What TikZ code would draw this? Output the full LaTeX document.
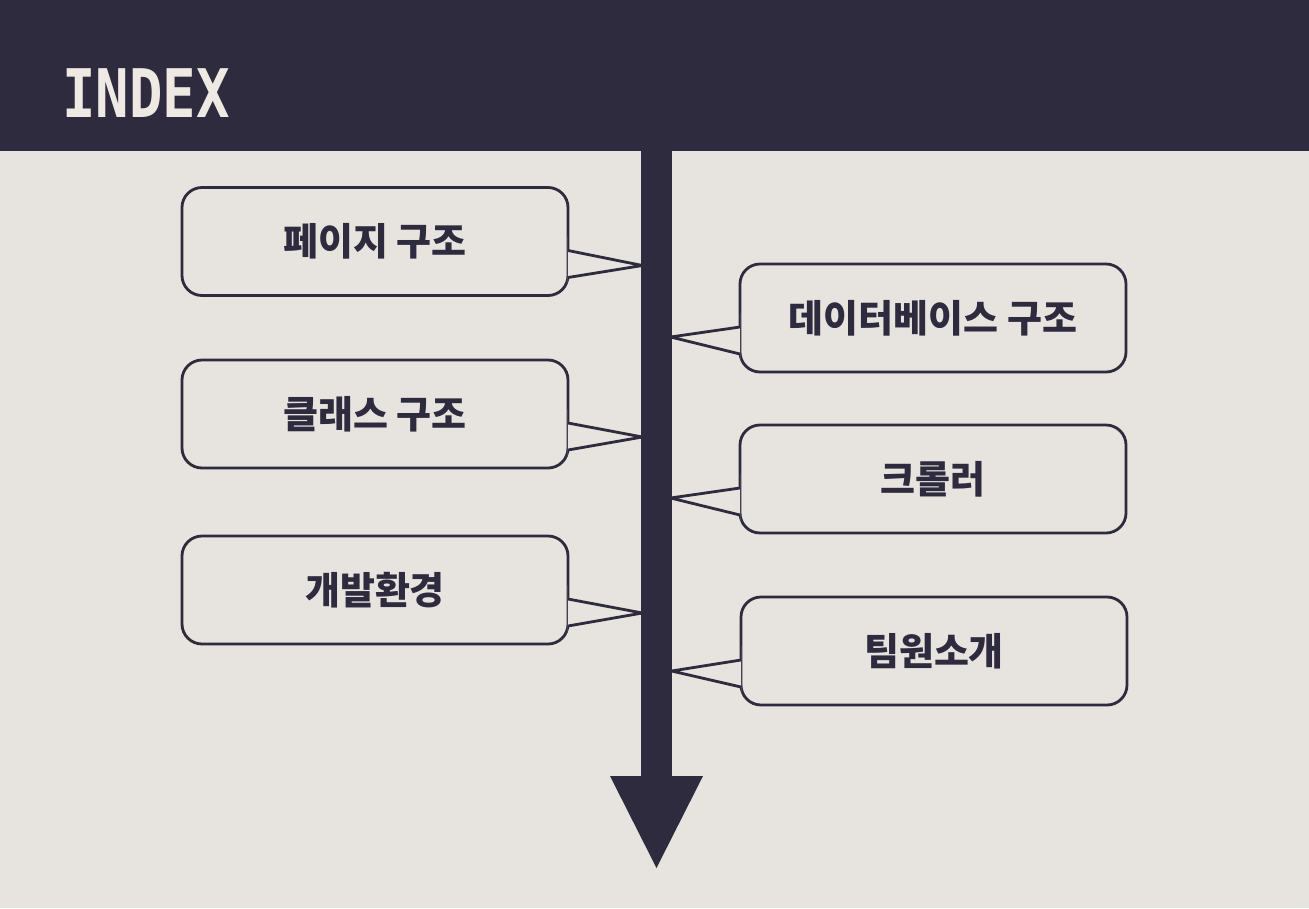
\documentclass[tikz,border=0pt]{standalone}
\usepackage{fontspec}
\newfontfamily\kr{Noto Sans CJK KR}
\newfontfamily\monof{DejaVu Sans Mono}
\usetikzlibrary{calc}
\definecolor{ink}{HTML}{2D2B3D}
\definecolor{bgc}{HTML}{E7E3DE}
\definecolor{ttl}{HTML}{EEE9E3}
\tikzset{
  cbox/.style={draw=ink,line width=2.8pt,rounded corners=20pt,minimum width=386pt,minimum height=108pt,
    font=\kr\bfseries\fontsize{38}{44}\selectfont,text=ink,inner sep=0pt},
  ptr/.style={draw=ink,line width=2.8pt,line join=miter},
}
\newcommand\leftcall[4]{%
  \node[cbox] (#1) at (375,#2) {#3};
  \coordinate (#1t) at ($(#1.east)+(73,#4)$);
  \fill[bgc] ($(#1.east)+(-1.6,-5)$) -- ($(#1.east)+(-1.6,9)$) -- (#1t) -- ($(#1.east)+(-1.6,36)$) -- ($(#1.east)+(-1.6,50)$) -- cycle;
  \draw[ptr] ($(#1.east)+(-1.4,9)$) -- (#1t) -- ($(#1.east)+(-1.4,36)$);
}
\newcommand\rightcall[5]{%
  \node[cbox] (#1) at (#5,#2) {#3};
  \coordinate (#1t) at ($(#1.west)+(-68,#4)$);
  \fill[bgc] ($(#1.west)+(1.6,-5)$) -- ($(#1.west)+(1.6,9)$) -- (#1t) -- ($(#1.west)+(1.6,36)$) -- ($(#1.west)+(1.6,50)$) -- cycle;
  \draw[ptr] ($(#1.west)+(1.4,9)$) -- (#1t) -- ($(#1.west)+(1.4,36)$);
}
\begin{document}
\begin{tikzpicture}[x=1pt,y=-1pt]
\useasboundingbox (0,0) rectangle (1309,908);
\fill[bgc] (0,0) rectangle (1309,908);
\fill[ink] (0,0) rectangle (1309,151);
\node[anchor=base west,inner sep=0pt,text=ttl] (title) at (62,117)
  {\scalebox{0.83}[1]{\monof\bfseries\fontsize{67}{70}\selectfont INDEX}};
% timeline bar and arrow head
\node[fill=ink,inner sep=0pt,minimum width=31pt,minimum height=627pt,anchor=north] (bar) at (656.5,150) {};
\coordinate (headL) at (610,776);
\coordinate (headR) at (703,776);
\coordinate (headT) at (656.5,868);
\fill[ink] (headL) -- (headR) -- (headT) -- cycle;
% callouts
\leftcall{c1}{241.5}{페이지 구조}{24}
\rightcall{c2}{318}{데이터베이스 구조}{19}{933}
\leftcall{c3}{414}{클래스 구조}{23}
\rightcall{c4}{479}{크롤러}{19}{933}
\leftcall{c5}{590}{개발환경}{23}
\rightcall{c6}{651}{팀원소개}{20}{934}
\end{tikzpicture}
\end{document}
